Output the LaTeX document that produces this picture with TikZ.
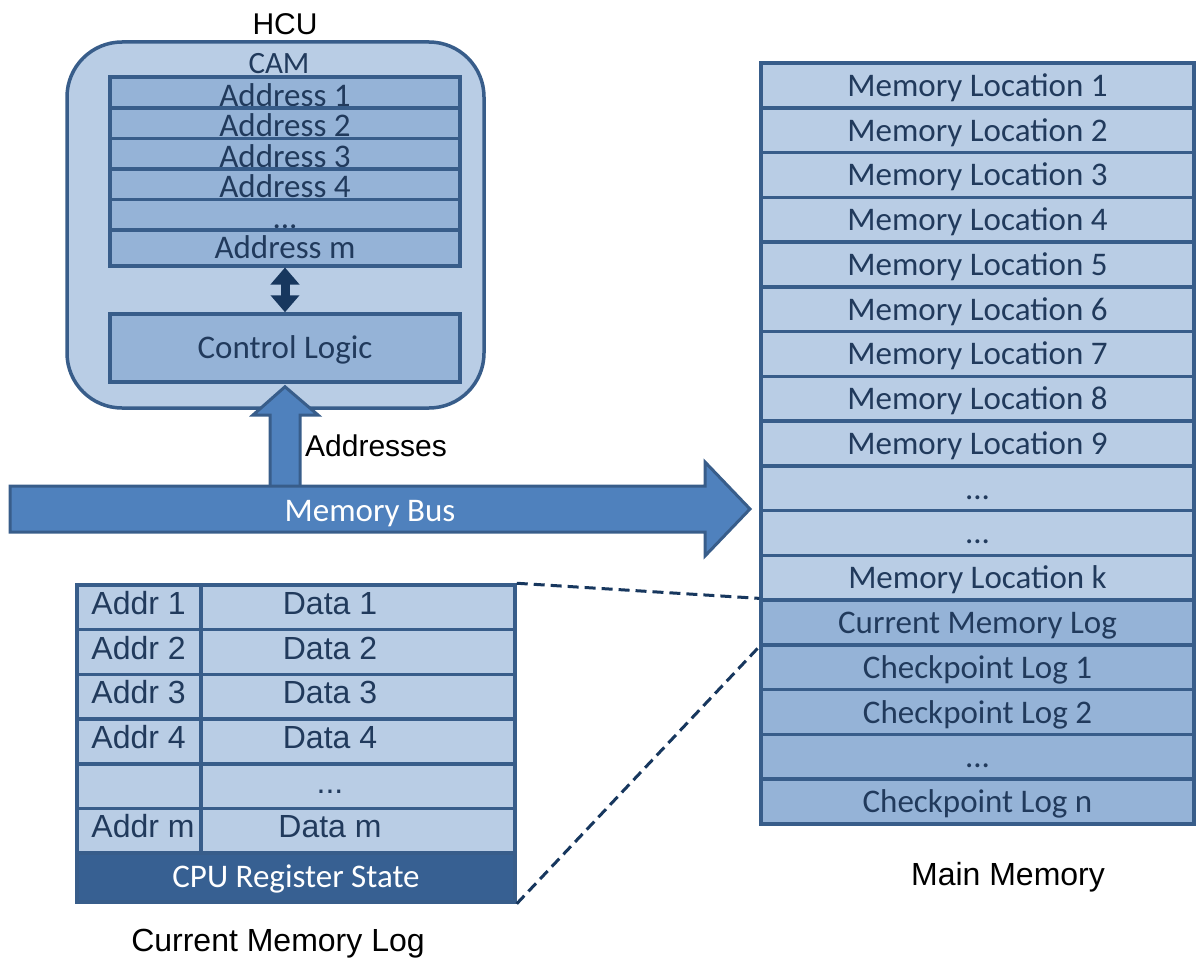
\documentclass[tikz,border=0pt]{standalone}
\usepackage{fontspec}
\setmainfont{Carlito}
\newfontfamily\arialf{Liberation Sans}
\usetikzlibrary{arrows.meta}
\definecolor{lightblue}{HTML}{B9CDE5}
\definecolor{midblue}{HTML}{95B3D7}
\definecolor{accent}{HTML}{4F81BD}
\definecolor{bordc}{HTML}{385D8A}
\definecolor{navy}{HTML}{17375E}
\definecolor{darkrow}{HTML}{376092}
\definecolor{txtc}{HTML}{213A5C}
\newcommand\tdots{...}
\begin{document}
\begin{tikzpicture}[x=1pt,y=-1pt,
  cell/.style={draw=bordc, line width=3.5pt, inner sep=0pt, rectangle, text=txtc,
    font=\fontsize{33}{36}\selectfont, text height=29pt, text depth=7pt},
  memrow/.style={cell, minimum width=433pt, minimum height=44.76pt},
  camrow/.style={cell, fill=midblue, minimum width=350pt, minimum height=30.5pt},
  logcell/.style={draw=bordc, line width=3.5pt, inner sep=0pt, rectangle, fill=lightblue, minimum height=44.7pt},
  logtxt/.style={inner sep=0pt, text=txtc, font=\arialf\fontsize{32}{36}\selectfont, text height=24pt, text depth=10pt},
  caption/.style={inner sep=0pt, text=black, font=\arialf\fontsize{32}{36}\selectfont},
  dashline/.style={draw=navy, line width=3pt, dash pattern=on 11pt off 6pt}
]
\useasboundingbox (0,0) rectangle (1197,958);

% HCU
\node[caption, font=\arialf\fontsize{30}{34}\selectfont, anchor=base] (hcutitle) at (285,35) {HCU};
\node[draw=bordc, fill=lightblue, line width=3.5pt, rounded corners=55pt, minimum width=417pt, minimum height=366pt, inner sep=0pt] (hcu) at (275.5,225) {};
\node[inner sep=0pt, text=txtc, font=\fontsize{31}{34}\selectfont, anchor=base] (camlabel) at (279,74) {CAM};
\foreach \t [count=\i] in {Address 1, Address 2, Address 3, Address 4, \tdots, Address m} {
  \pgfmathsetmacro\yy{80+30.5*(\i-0.5)}
  \node[camrow] (a\i) at (285,\yy) {\t};
}
\node[cell, fill=midblue, minimum width=350pt, minimum height=68pt, text height=27pt, text depth=7pt] (ctrl) at (285,348) {Control Logic};
\draw[navy, line width=9pt, {Triangle[width=28pt,length=17pt]}-{Triangle[width=28pt,length=17pt]}] (a6.south) -- (ctrl.north);

% Addresses arrow (bus -> control logic)
\coordinate (tip) at ([yshift=-3pt]ctrl.south);
\draw[fill=accent, draw=bordc, line width=3pt, line join=miter]
  (270,486) -- (270,415) -- (253,415) -- (tip) -- (318,415) -- (300,415) -- (300,486);
\node[caption, font=\arialf\fontsize{30}{34}\selectfont, anchor=base west] (addrlabel) at (305,456) {Addresses};

% Memory bus
\draw[fill=accent, draw=bordc, line width=3pt, line join=miter]
  (10,486) -- (705,486) -- (705,462) -- (750,509) -- (705,556) -- (705,532) -- (10,532) -- cycle;
\node[inner sep=0pt, text=white, font=\fontsize{33}{36}\selectfont, anchor=base] (bus) at (370,521) {Memory Bus};

% Main memory
\foreach \t [count=\i] in {Memory Location 1, Memory Location 2, Memory Location 3, Memory Location 4,
  Memory Location 5, Memory Location 6, Memory Location 7, Memory Location 8, Memory Location 9,
  \tdots, \tdots, Memory Location k, Current Memory Log, Checkpoint Log 1, Checkpoint Log 2, \tdots, Checkpoint Log n} {
  \pgfmathsetmacro\yy{63+44.76*(\i-0.5)}
  \ifnum\i>12 \def\fc{midblue}\else\def\fc{lightblue}\fi
  \node[memrow, fill=\fc] (m\i) at (977.5,\yy) {\t};
}
\node[caption, anchor=base] (mmlabel) at (1008,885) {Main Memory};

% Current memory log table
\foreach \a/\d [count=\i] in {Addr 1/Data 1, Addr 2/Data 2, Addr 3/Data 3, Addr 4/Data 4, /\tdots, Addr m/Data m} {
  \pgfmathsetmacro\yy{585+44.7*(\i-0.5)}
  \node[logcell, minimum width=124pt] (ad\i) at (139,\yy) {};
  \node[logcell, minimum width=314pt] (da\i) at (358,\yy) {};
  \node[logtxt, anchor=west] (adt\i) at ([xshift=16pt]ad\i.west) {\a};
  \node[logtxt] (dat\i) at (330,\yy) {\d};
}
\node[draw=bordc, line width=3.5pt, inner sep=0pt, fill=darkrow, minimum width=438pt, minimum height=49pt,
  text=white, font=\fontsize{33}{36}\selectfont, text height=27pt, text depth=8pt] (cpu) at (296,877.5) {CPU Register State};
\node[caption, anchor=base] (cmllabel) at (278,951) {Current Memory Log};

% Dashed zoom lines
\draw[dashline] (da1.north east) -- (m13.north west);
\draw[dashline] (cpu.south east) -- (m13.south west);
\end{tikzpicture}
\end{document}
